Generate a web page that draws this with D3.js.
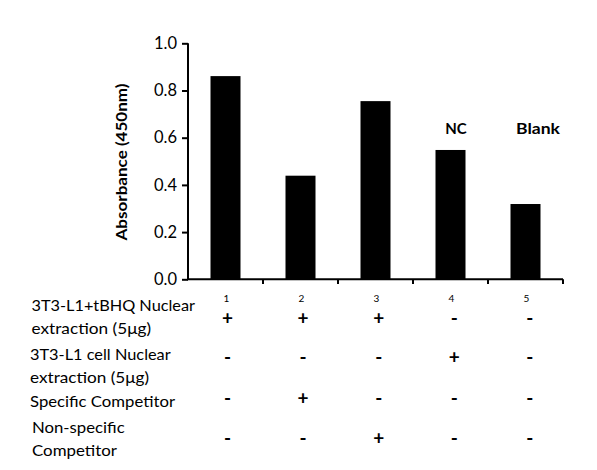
<!DOCTYPE html>
<html><head><meta charset="utf-8">
<script src="https://cdn.jsdelivr.net/npm/d3@7"></script>
<style>body{margin:0;background:#fff}svg{display:block}</style>
</head><body>
<svg id="c" width="597" height="470"></svg>
<script>
const lanes = ["1","2","3","4","5"];
const values = [0.861, 0.439, 0.755, 0.548, 0.319];
const barNotes = ["", "", "", "NC", "Blank"];
const yTicks = [0.0, 0.2, 0.4, 0.6, 0.8, 1.0];
const yLabel = "Absorbance (450nm)";
const rowLabels = [
  ["3T3-L1+tBHQ Nuclear", "extraction (5μg)"],
  ["3T3-L1 cell Nuclear", "extraction (5μg)"],
  ["Specific Competitor"],
  ["Non-specific", "Competitor"]
];
const rowSigns = [
  ["+","+","+","-","-"],
  ["-","-","-","+","-"],
  ["-","+","-","-","-"],
  ["-","-","+","-","-"]
];

const font = "Lato, 'Open Sans', sans-serif";
const svg = d3.select("#c");
svg.append("rect").attr("width",597).attr("height",470).attr("fill","#fff");

const x = d3.scaleBand().domain(lanes).range([188, 563]).paddingInner(0.6).paddingOuter(0.3);
const y = d3.scaleLinear().domain([0, 1]).range([279.3, 43.3]);

// bars
svg.selectAll("rect.bar").data(values).enter().append("rect")
  .attr("class","bar")
  .attr("x",(d,i)=>x(lanes[i]))
  .attr("width",x.bandwidth())
  .attr("y",d=>y(d))
  .attr("height",d=>y(0)-y(d))
  .attr("fill","#000");

// y axis
const ya = svg.append("g").attr("transform","translate(188,0)")
  .call(d3.axisLeft(y).tickValues(yTicks).tickFormat(d3.format(".1f")).tickSize(6).tickPadding(5));
ya.select(".domain").attr("stroke","#000").attr("stroke-width",2).attr("d","M-0,43.3V279.3");
ya.selectAll(".tick line").attr("stroke","#000").attr("stroke-width",2);
ya.selectAll(".tick text").attr("font-family",font).attr("font-size",16.5).attr("fill","#000");

// x axis (line with ticks between categories)
const xEdges = d3.scaleLinear().domain([0, lanes.length]).range([188, 563]);
svg.append("line").attr("x1",187).attr("x2",563).attr("y1",279.3).attr("y2",279.3)
  .attr("stroke","#000").attr("stroke-width",2);
svg.selectAll("line.xt").data(d3.range(1, lanes.length+1)).enter().append("line")
  .attr("class","xt")
  .attr("x1",d=>xEdges(d)).attr("x2",d=>xEdges(d))
  .attr("y1",279.3).attr("y2",284)
  .attr("stroke","#000").attr("stroke-width",2);

// lane numbers
const cx = d => x(d) + x.bandwidth()/2;
svg.selectAll("text.lane").data(lanes).enter().append("text")
  .attr("class","lane")
  .attr("x",d=>cx(d)+1).attr("y",301.5)
  .attr("text-anchor","middle")
  .attr("font-family",font).attr("font-size",10).attr("fill","#000")
  .text(d=>d);

// notes above bars
const noteW = [0,0,0,21.5,44];
svg.selectAll("text.note").data(barNotes).enter().append("text")
  .attr("class","note")
  .attr("x",(d,i)=>cx(lanes[i])+(i===4?12.5:5.5)).attr("y",134)
  .attr("text-anchor","middle")
  .attr("font-family",font).attr("font-weight","bold").attr("font-size",15.5).attr("fill","#000")
  .each(function(d,i){ if(d) d3.select(this).attr("textLength",noteW[i]).attr("lengthAdjust","spacingAndGlyphs"); })
  .text(d=>d);

// y label
svg.append("text")
  .attr("transform","translate(127,162) rotate(-90)")
  .attr("text-anchor","middle")
  .attr("font-family",font).attr("font-weight","bold").attr("font-size",15.5).attr("fill","#000")
  .attr("textLength",157).attr("lengthAdjust","spacingAndGlyphs")
  .text(yLabel);

// table rows
const rowY = [318.3, 357.7, 398.3, 438.3];
const labelY = [[311, 334], [360, 383], [406.5], [433, 456]];
const labelX = [31.5, 30, 30, 32];
const labelW = [[163.5, 119.5], [140.7, 119], [145], [92.7, 85]];
rowLabels.forEach((lines, r) => {
  lines.forEach((t, k) => {
    svg.append("text").attr("x",labelX[r]).attr("y",labelY[r][k])
      .attr("font-family",font).attr("font-size",16).attr("fill","#000")
      .attr("textLength",labelW[r][k]).attr("lengthAdjust","spacingAndGlyphs")
      .text(t);
  });
  svg.selectAll("text.sign"+r).data(rowSigns[r]).enter().append("text")
    .attr("class","sign"+r)
    .attr("x",(d,i)=>cx(lanes[i])+2+i*0.6)
    .attr("y",rowY[r])
    .attr("dy","0.35em")
    .attr("text-anchor","middle")
    .attr("font-family",font).attr("font-weight","bold").attr("font-size",19).attr("fill","#000")
    .text(d=>d);
});
</script>
</body></html>
